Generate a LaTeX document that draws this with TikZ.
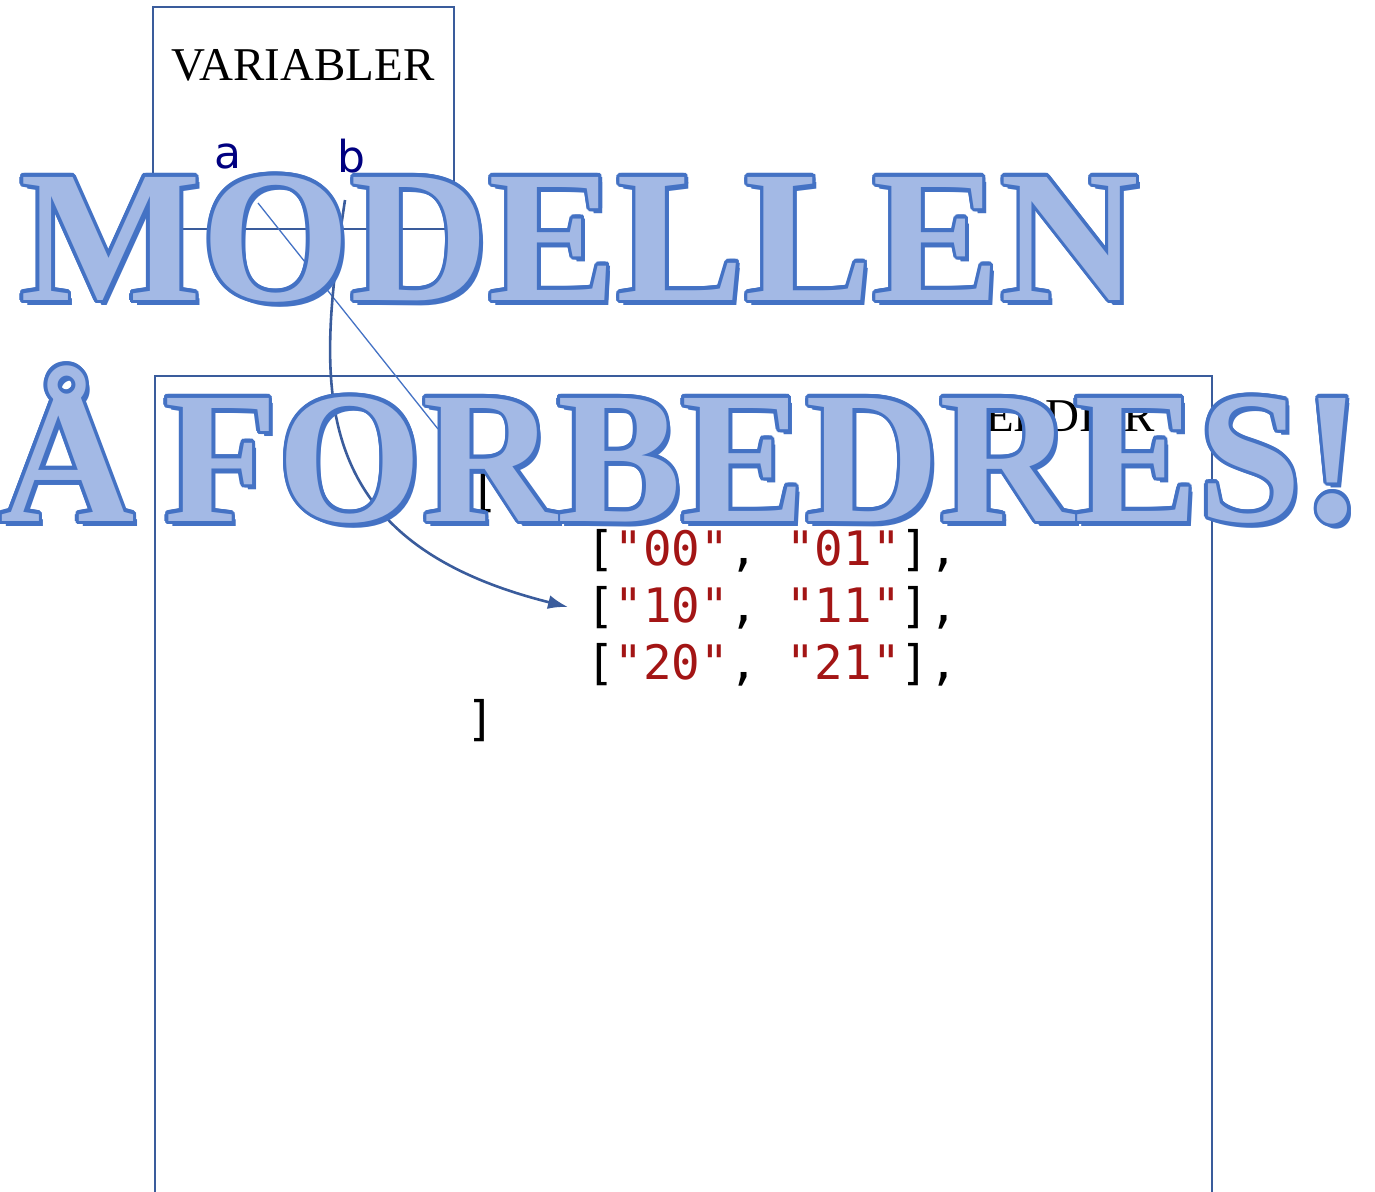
\documentclass[tikz,border=0pt]{standalone}
\usepackage{fontspec}
\setmainfont{Liberation Serif}
\newfontfamily\codefont{DejaVu Sans Mono}
\newfontfamily\labfont{DejaVu Sans}
\usetikzlibrary{arrows.meta}
\definecolor{boxblue}{HTML}{3A5C9C}
\definecolor{wordblue}{HTML}{4472C4}
\definecolor{wordfill}{HTML}{A3B9E5}
\definecolor{navy}{HTML}{000080}
\definecolor{strred}{HTML}{A31515}
\tikzset{
  panel/.style={draw=boxblue, line width=2.6pt},
  title/.style={font=\fontsize{47}{52}\selectfont, text=black, inner sep=0pt, anchor=base},
  varname/.style={font=\labfont\fontsize{44}{50}\selectfont, text=navy, inner sep=0pt, anchor=base},
  code/.style={font=\codefont\fontsize{47.5}{52}\selectfont, inner sep=0pt, anchor=base west},
  big/.style={font=\bfseries\fontsize{188}{200}\selectfont, inner sep=0pt, anchor=base west},
  link/.style={draw=boxblue, line width=2.6pt, -{Latex[length=20pt,width=14pt]}},
  thinlink/.style={draw=wordblue, line width=1.3pt},
}
\newcommand{\bigline}[4]{% name, x, y, text
  \node[big, text=wordblue] (#1s) at (#2+4,#3+5) {#4};
  \foreach \k in {0,...,15}{
    \node[big, text=wordblue] (#1o\k) at ({#2+3.3*cos(22.5*\k)},{#3+3.3*sin(22.5*\k)}) {#4};
  }
  \node[big, text=wordfill] (#1) at (#2,#3) {#4};
}
\begin{document}
\begin{tikzpicture}[x=1pt,y=-1pt]
\useasboundingbox (0,0) rectangle (1375,1191);
% boxes
\draw[panel] (153,7) rectangle (454,229);
\draw[panel] (155,1200) -- (155,376) -- (1212,376) -- (1212,1200);
\node[title] (vartitle) at (303,80) {VARIABLER};
\node[title] (valtitle) at (1053,431) {VERDIER};
% variable names
\node[varname] (va) at (228,168) {a};
\node[varname] (vb) at (351,172) {b};
\coordinate (astart) at (258,203);
\coordinate (bstart) at (345,200);
% code
\node[code] (open) at (470,506) {[};
\node[code] (row0) at (586,565) {[\textcolor{strred}{"00"}, \textcolor{strred}{"01"}],};
\node[code] (row1) at (586,622) {[\textcolor{strred}{"10"}, \textcolor{strred}{"11"}],};
\node[code] (row2) at (586,679) {[\textcolor{strred}{"20"}, \textcolor{strred}{"21"}],};
\node[code] (close) at (466,735) {]};
\coordinate (aend) at (438,429);
\coordinate (bend) at (568,607);
% connectors
\draw[thinlink] (astart) -- (aend);
\draw[link] (bstart) .. controls (318,380) and (300,540) .. (bend);
% overlay words
\bigline{w1}{20}{300}{\scalebox{1.02}[1]{MODELLEN}}
\bigline{w2}{0}{521}{\scalebox{0.99}[1]{Å\hspace{30pt}FORBEDRES!}}
\end{tikzpicture}
\end{document}
